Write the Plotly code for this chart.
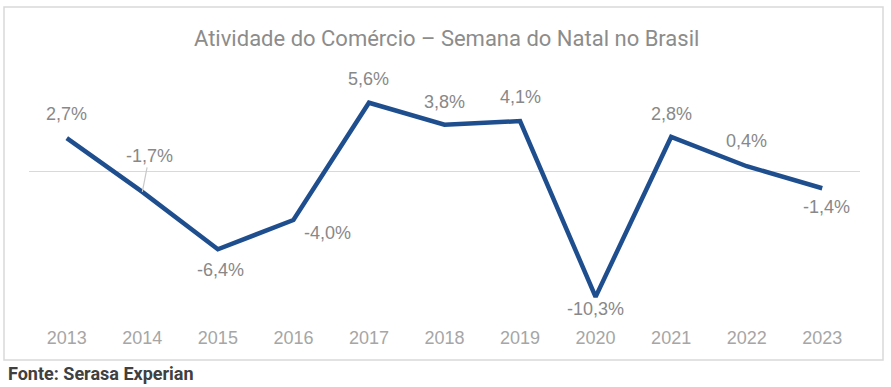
import plotly.graph_objects as go

years = ["2013", "2014", "2015", "2016", "2017", "2018", "2019", "2020", "2021", "2022", "2023"]
values = [2.7, -1.7, -6.4, -4.0, 5.6, 3.8, 4.1, -10.3, 2.8, 0.4, -1.4]
labels = ["2,7%", "-1,7%", "-6,4%", "-4,0%", "5,6%", "3,8%", "4,1%", "-10,3%", "2,8%", "0,4%", "-1,4%"]
# label placement offsets (pixels)
xshifts = [0, 0, 3, 34, 0, 0, 0, 0, 0, 0, 4]
yshifts = [24, 0, -21, -13, 24, 23, 24, -12, 23, 25, -19]

W, H = 891, 387
L, R, T, B = 29, 31, 60, 62
pw, ph = W - L - R, H - T - B
FONT = "Roboto, Arial, sans-serif"
LFONT = "Liberation Sans, Arial, sans-serif"

fig = go.Figure()
fig.add_trace(go.Scatter(
    x=years, y=values, mode="lines",
    line=dict(color="#1F4E8F", width=4.5),
    hoverinfo="skip",
))

annotations = []
for i, (yr, v, lab) in enumerate(zip(years, values, labels)):
    # category axis: position by category index
    if yr == "2014":
        annotations.append(dict(
            x=i, y=v, text=lab, showarrow=True, arrowhead=0, arrowwidth=1.2,
            arrowcolor="#c8c8c8", ax=7, ay=-36, standoff=0,
            font=dict(family=LFONT, size=18, color="#888888"),
        ))
    else:
        annotations.append(dict(
            x=i, y=v, text=lab, showarrow=False,
            xshift=xshifts[i], yshift=yshifts[i],
            font=dict(family=LFONT, size=18, color="#888888"),
        ))

annotations.append(dict(
    text="Atividade do Comércio – Semana do Natal no Brasil",
    xref="paper", yref="paper", x=(446 - L) / pw, y=(H - B - 38) / ph,
    showarrow=False, xanchor="center", yanchor="middle",
    font=dict(family=FONT, size=22, color="#8c8c8c"),
))
annotations.append(dict(
    text="<b>Fonte: Serasa Experian</b>",
    xref="paper", yref="paper", x=(6 - L) / pw, y=(H - B - 373) / ph,
    showarrow=False, xanchor="left", yanchor="middle",
    font=dict(family=FONT, size=18, color="#404040"),
))

fig.update_layout(
    width=W, height=H,
    margin=dict(l=L, r=R, t=T, b=B),
    paper_bgcolor="white", plot_bgcolor="white",
    showlegend=False,
    annotations=annotations,
    xaxis=dict(
        type="category",
        showgrid=False, zeroline=False, showline=False, ticks="",
        tickfont=dict(family=LFONT, size=18, color="#a6a6a6"),
        range=[-0.5, 10.5], fixedrange=True,
    ),
    yaxis=dict(
        showgrid=False, showticklabels=False, zeroline=True,
        zerolinecolor="#d9d9d9", zerolinewidth=1.3,
        range=[-12.6, 9.1], fixedrange=True,
    ),
    shapes=[dict(
        type="rect", xref="paper", yref="paper",
        x0=(4 - L) / pw, x1=(883 - L) / pw,
        y0=(H - B - 360) / ph, y1=(H - B - 7) / ph,
        line=dict(color="#d9d9d9", width=1.5), layer="below",
    )],
)

fig.write_html("out.html", config={"displayModeBar": False},
               post_script="document.body.style.margin='0';")
